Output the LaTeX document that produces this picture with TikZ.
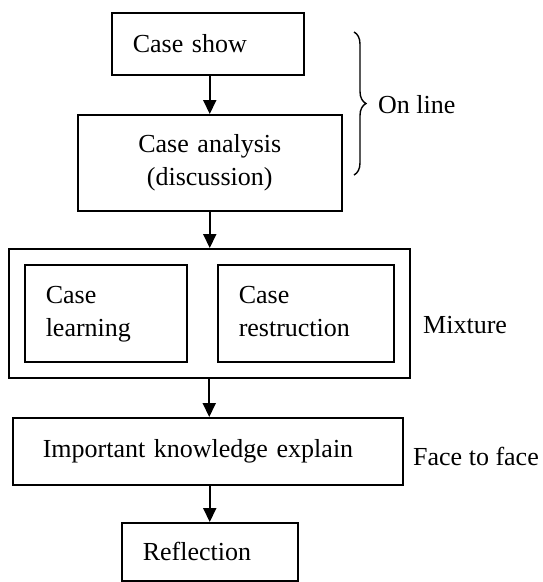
\documentclass[tikz,border=0pt]{standalone}
\usepackage{fontspec}
\setmainfont{Liberation Serif}
\usetikzlibrary{arrows.meta,decorations.pathreplacing}
\begin{document}
\begin{tikzpicture}[x=1pt,y=-1pt,
  box/.style={draw, line width=1.5pt, rectangle, inner ysep=0pt, anchor=north west,
    font=\fontsize{26}{33}\selectfont},
  lbl/.style={font=\fontsize{26}{33}\selectfont, inner sep=0pt, anchor=base west},
  arr/.style={line width=2pt, -{Triangle[length=14pt,width=13pt]}},
  brc/.style={line width=1.4pt, decorate, decoration={brace, amplitude=12pt}}]
\useasboundingbox (0,0) rectangle (542,582);
\node[box, minimum width=192pt, minimum height=62pt, text width=150pt, inner xsep=21pt, align=left] (show) at (111,12) {Case show};
\node[box, minimum width=264pt, minimum height=96pt, text width=222pt, inner xsep=21pt, align=center] (analysis) at (77,114) {\strut Case analysis\\(discussion)\strut};
\node[box, minimum width=401pt, minimum height=129pt, inner sep=0pt] (mix) at (8,248) {};
\node[box, minimum width=162pt, minimum height=97pt, text width=120pt, inner xsep=21pt, align=left] (learn) at (24,264) {\strut Case\\learning\strut};
\node[box, minimum width=176pt, minimum height=97pt, text width=134pt, inner xsep=21pt, align=left] (restr) at (217,264) {\strut Case\\restruction\strut};
\node[box, minimum width=390pt, minimum height=67pt, text width=330pt, inner xsep=30pt, align=left] (know) at (12,417) {Important knowledge explain};
\node[box, minimum width=176pt, minimum height=58pt, text width=134pt, inner xsep=21pt, align=left] (refl) at (121,522) {Reflection};
\draw[arr] (analysis.north |- show.south) -- (analysis.north);
\draw[arr] (analysis.south) -- (analysis.south |- mix.north);
\draw[arr] (mix.south) -- (mix.south |- know.north);
\draw[arr] (refl.north |- know.south) -- (refl.north);
\coordinate (btop) at (354,32);
\coordinate (bbot) at (354,175);
\draw[brc] (btop) -- (bbot);
\node[lbl] (online) at (378,113) {On line};
\node[lbl] (mixture) at (423,333) {Mixture};
\node[lbl] (f2f) at (413,465) {Face to face};
\end{tikzpicture}
\end{document}
